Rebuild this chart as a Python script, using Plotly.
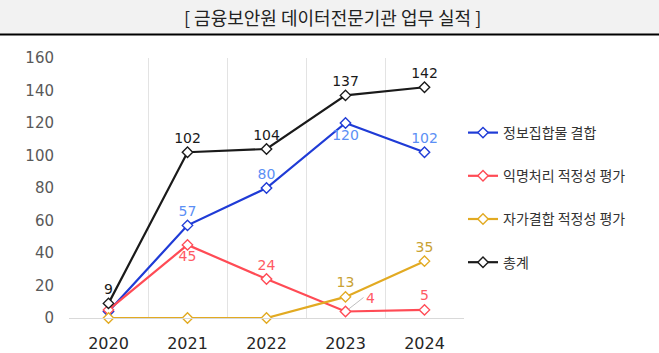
import plotly.graph_objects as go

years = ["2020", "2021", "2022", "2023", "2024"]
info_combine = [4, 57, 80, 120, 102]
anon_eval = [5, 45, 24, 4, 5]
self_eval = [0, 0, 0, 13, 35]
total = [9, 102, 104, 137, 142]

names = ["정보집합물 결합", "익명처리 적정성 평가", "자가결합 적정성 평가", "총계"]
title_text = "[ 금융보안원 데이터전문기관 업무 실적 ]"

W, H = 659, 353
L, R, T, B = 69, 195, 58, 35
pw, ph = W - L - R, H - T - B

num_font = "DejaVu Sans"
kr_font = "Noto Sans CJK KR"

def lbl(vals, show):
    return [str(v) if s else "" for v, s in zip(vals, show)]

fig = go.Figure()

series = [
    (info_combine, "#1f3bd6", "#5b8ff5", lbl(info_combine, [0, 1, 1, 1, 1]),
     ["top center", "top center", "top center", "bottom center", "top center"]),
    (anon_eval, "#ff4b55", "#ff5a64", lbl(anon_eval, [0, 1, 1, 0, 1]),
     ["top center", "bottom center", "top center", "middle right", "top center"]),
    (self_eval, "#e2aa22", "#c9a233", lbl(self_eval, [0, 0, 0, 1, 1]),
     ["top center"] * 5),
    (total, "#1a1a1a", "#1a1a1a", lbl(total, [1, 1, 1, 1, 1]),
     ["top center"] * 5),
]

for i, (vals, lc, tc, txt, pos) in enumerate(series):
    fig.add_trace(go.Scatter(
        x=years, y=vals, name=names[i], mode="lines+markers+text",
        line=dict(color=lc, width=2.2),
        marker=dict(symbol="diamond", size=8, color="white",
                    line=dict(color=lc, width=1.4)),
        text=txt, textposition=pos,
        textfont=dict(family=num_font, size=14, color=tc),
        legendgroup=str(i),
        cliponaxis=False,
    ))

# leader label for the small 2023 value of 익명처리
fig.add_annotation(x=years.index("2023"), y=anon_eval[3], text=str(anon_eval[3]),
                   showarrow=True, arrowhead=0, arrowwidth=1, arrowcolor="#bfbfbf",
                   ax=18, ay=-14, standoff=4,
                   font=dict(family=num_font, size=14, color="#ff5a64"),
                   xanchor="left")

# title band
fig.add_shape(type="rect", xref="paper", yref="paper",
              x0=-L / pw, x1=(W - L) / pw, y0=(ph + T - 34) / ph, y1=(ph + T) / ph,
              fillcolor="#f2f2f2", line=dict(width=0), layer="below")
fig.add_shape(type="line", xref="paper", yref="paper",
              x0=-L / pw, x1=(W - L) / pw, y0=(ph + T - 34.5) / ph, y1=(ph + T - 34.5) / ph,
              line=dict(color="#000000", width=2))
fig.add_annotation(xref="paper", yref="paper", x=(332 - L) / pw, y=(ph + T - 17) / ph,
                   text=title_text, showarrow=False,
                   font=dict(family=kr_font, size=18, color="#222222"),
                   xanchor="center", yanchor="middle")

fig.update_layout(
    width=W, height=H,
    margin=dict(l=L, r=R, t=T, b=B, autoexpand=False),
    paper_bgcolor="white", plot_bgcolor="white",
    showlegend=True,
    legend=dict(x=(463 - L) / pw, y=(318 - 117) / ph, xanchor="left", yanchor="top",
                font=dict(family=kr_font, size=14, color="#333333"),
                tracegroupgap=22, itemwidth=30, bgcolor="rgba(0,0,0,0)"),
    xaxis=dict(type="category", categoryorder="array", categoryarray=years,
               range=[-0.5, len(years) - 0.5], tickson="boundaries", showgrid=True,
               gridcolor="#e3e3e3", gridwidth=1, automargin=False,
               showline=True, linecolor="#d9d9d9", linewidth=1,
               ticks="", zeroline=False,
               tickfont=dict(family=num_font, size=16, color="#262626"),
               ticklabelstandoff=11),
    yaxis=dict(range=[0, 160], dtick=20, showgrid=False, zeroline=False,
               showline=False, ticks="", automargin=False,
               tickfont=dict(family=num_font, size=15, color="#595959"),
               ticklabelstandoff=14),
)

fig.write_html("out.html")
